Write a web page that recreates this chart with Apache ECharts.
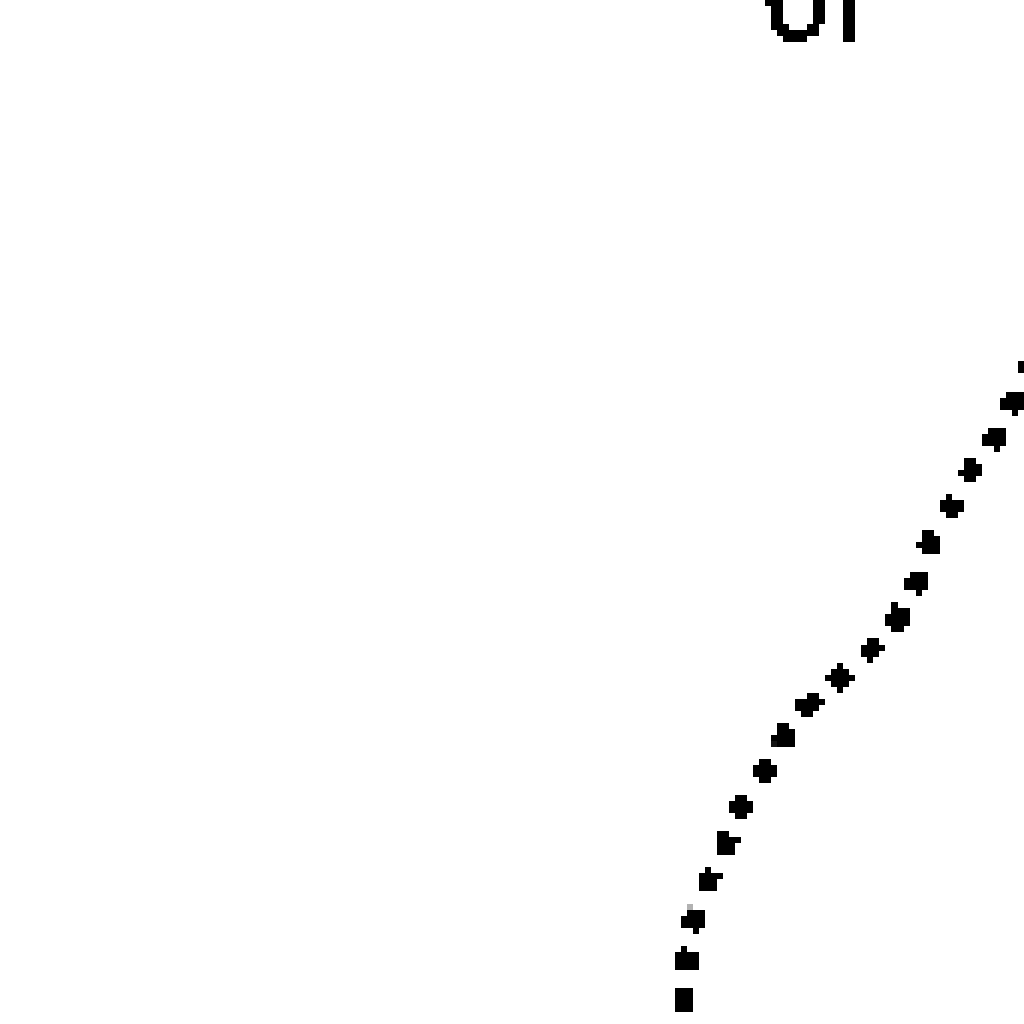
<!DOCTYPE html>
<html>
<head>
<meta charset="utf-8">
<script src="https://cdn.jsdelivr.net/npm/echarts@6/dist/echarts.min.js"></script>
<style>
html,body{margin:0;padding:0;background:#fff;}
#chart{width:1024px;height:1024px;}
#chart canvas{image-rendering:pixelated;filter:grayscale(1) brightness(0.8) contrast(100);}
</style>
</head>
<body>
<div id="chart"></div>
<script>
// Values (x and y in chart units, 0-100), from bottom end to top end
const xValues = [66.4, 66.8, 67.4, 69.1, 71.1, 72.5, 75.4, 77.1, 79.9, 82.8, 85.7, 88.0, 89.6, 90.5, 92.3, 94.2, 96.6, 98.3, 99.8, 101.6];
const yValues = [1.6, 6.5, 10.6, 14.6, 18.9, 22.5, 26.4, 29.8, 32.4, 34.9, 37.8, 40.9, 44.3, 47.3, 50.4, 53.8, 57.2, 60.3, 63.7, 66.8];
const labelText = '0l';

const points = xValues.map((x, i) => [x, yValues[i]]);

const chart = echarts.init(document.getElementById('chart'), null, {devicePixelRatio: 1 / 6});
chart.setOption({
  animation: false,
  backgroundColor: '#ffffff',
  grid: {left: 0, right: 0, top: 0, bottom: 0},
  xAxis: {type: 'value', min: 0, max: 100, show: false},
  yAxis: {type: 'value', min: 0, max: 100, show: false},
  graphic: [{
    type: 'text',
    left: 757,
    top: -46,
    style: {
      text: labelText,
      fontFamily: 'DejaVu Sans',
      fontSize: 114,
      fill: '#000'
    }
  }],
  series: [{
    type: 'line',
    data: points,
    smooth: 0.3,
    symbol: 'none',
    clip: true,
    lineStyle: {color: '#000', width: 19, type: [21, 20], cap: 'butt'}
  }]
});
</script>
</body>
</html>
